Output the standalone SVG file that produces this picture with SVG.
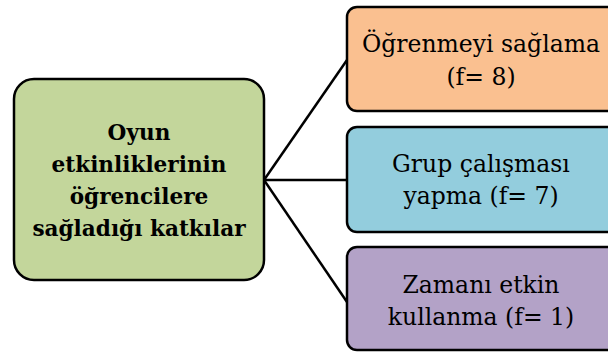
<svg xmlns="http://www.w3.org/2000/svg" width="608" height="352" viewBox="0 0 608 352">
<style>
.box{stroke:#000;stroke-width:2.5}
.t{font-family:"DejaVu Serif","Liberation Serif",serif;font-size:23.5px;fill:#000;text-anchor:middle}
.b{font-weight:bold;font-size:21.6px}
.c{stroke:#000;stroke-width:2.5;fill:none}
</style>
<rect width="608" height="352" fill="#fff"/>
<g id="connectors">
<line class="c" x1="264" y1="180" x2="347" y2="60"/>
<line class="c" x1="264" y1="180" x2="347" y2="180"/>
<line class="c" x1="264" y1="180" x2="347" y2="302"/>
</g>
<g id="root">
<rect class="box" x="14" y="79" width="250" height="201" rx="20" fill="#C3D69B"/>
<text class="t b" x="139" y="140">Oyun</text>
<text class="t b" x="139" y="172">etkinliklerinin</text>
<text class="t b" x="139" y="204">öğrencilere</text>
<text class="t b" x="139" y="236">sağladığı katkılar</text>
</g>
<g id="n1">
<rect class="box" x="347" y="7" width="275" height="104" rx="10" fill="#FAC090"/>
<text class="t" x="481" y="52">Öğrenmeyi sağlama</text>
<text class="t" x="481" y="85">(f= 8)</text>
</g>
<g id="n2">
<rect class="box" x="347" y="127" width="275" height="105" rx="10" fill="#93CDDD"/>
<text class="t" x="481" y="172">Grup çalışması</text>
<text class="t" x="481" y="204">yapma (f= 7)</text>
</g>
<g id="n3">
<rect class="box" x="347" y="247" width="275" height="103" rx="10" fill="#B3A2C7"/>
<text class="t" x="481" y="293">Zamanı etkin</text>
<text class="t" x="481" y="325">kullanma (f= 1)</text>
</g>
</svg>
